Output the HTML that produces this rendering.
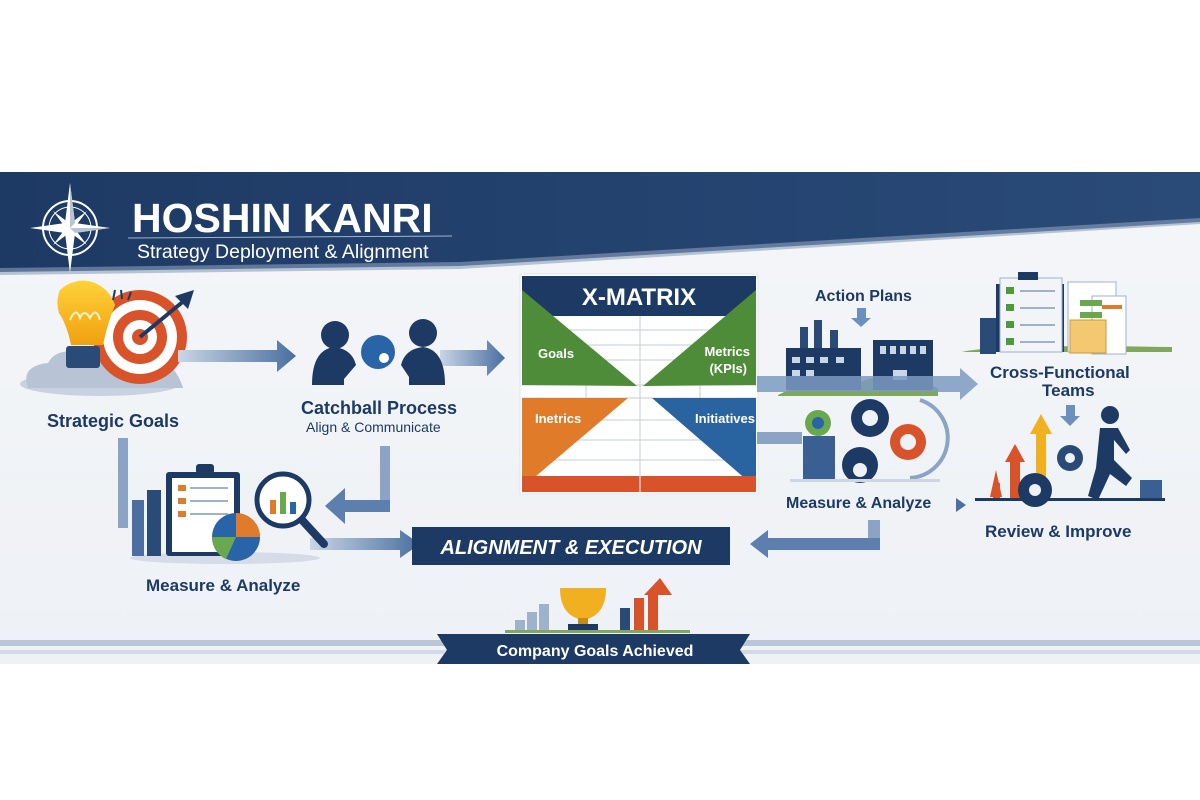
<!DOCTYPE html>
<html><head><meta charset="utf-8"><style>
html,body{margin:0;padding:0;background:#fff}
svg{display:block}
text{font-family:"Liberation Sans",sans-serif}
</style></head><body>
<svg width="1200" height="800" viewBox="0 0 1200 800" xmlns="http://www.w3.org/2000/svg">
<defs>
<linearGradient id="bg" x1="0" y1="0" x2="0" y2="1"><stop offset="0" stop-color="#f4f6f9"/><stop offset="1" stop-color="#eef1f5"/></linearGradient>
<linearGradient id="ban" x1="0" y1="0" x2="1" y2="0"><stop offset="0" stop-color="#1d3a64"/><stop offset="1" stop-color="#2a4a78"/></linearGradient>
<linearGradient id="arr" x1="0" y1="0" x2="1" y2="0"><stop offset="0" stop-color="#c9d6e6"/><stop offset="1" stop-color="#4a6fa0"/></linearGradient>
<linearGradient id="bulb" x1="0" y1="0" x2="0" y2="1"><stop offset="0" stop-color="#ffd23a"/><stop offset="1" stop-color="#f0a010"/></linearGradient>
</defs>
<rect width="1200" height="800" fill="#fff"/>
<rect y="172" width="1200" height="492" fill="url(#bg)"/>
<!-- banner -->
<polygon points="0,172 1200,172 1200,222 460,266 0,272" fill="url(#ban)"/>
<polygon points="0,268 460,262 1200,218 1200,224 460,269 0,275" fill="#8aa0bd" opacity=".6"/>
<!-- compass -->
<g transform="translate(70,228)" fill="none" stroke="#fff" stroke-width="2">
<circle r="27"/><circle r="21" stroke-width="1"/>
<polygon points="0,-45 5,-5 40,0 5,5 0,45 -5,5 -40,0 -5,-5" fill="#fff" stroke="none"/>
<polygon points="0,-24 3,-3 24,0 3,3 0,24 -3,3 -24,0 -3,-3" fill="#fff" stroke="none" transform="rotate(45)"/>
<polygon points="0,-45 5,-5 0,0" fill="#b8c4d6" stroke="none"/>
<polygon points="40,0 5,5 0,0" fill="#b8c4d6" stroke="none"/>
</g>
<text x="132" y="232" fill="#fff" font-size="41" font-weight="bold">HOSHIN KANRI</text>
<line x1="128" y1="238" x2="452" y2="236" stroke="#9fb2cc" stroke-width="1"/>
<text x="137" y="258" fill="#fff" font-size="19.5">Strategy Deployment &amp; Alignment</text>

<!-- Strategic goals icon -->
<ellipse cx="100" cy="384" rx="80" ry="12" fill="#c8d2e0"/>
<path d="M28,388 q-8,-22 20,-25 q10,-18 40,-8 q30,-15 55,5 q30,-5 40,28z" fill="#b8c4d6"/>
<circle cx="140" cy="337" r="47" fill="#d8532a"/>
<circle cx="140" cy="337" r="37" fill="#fff"/>
<circle cx="140" cy="337" r="27" fill="#d8532a"/>
<circle cx="140" cy="337" r="17" fill="#fff"/>
<circle cx="140" cy="337" r="8" fill="#d8532a"/>
<line x1="140" y1="337" x2="185" y2="300" stroke="#1d3a64" stroke-width="4"/>
<polygon points="175,296 194,290 188,309" fill="#1d3a64"/>
<path d="M60,290 a34,36 0 0 1 55,15 q-8,20 -12,40 h-32 q-4,-20 -12,-32 a34,34 0 0 1 1,-23z" fill="url(#bulb)"/>
<path d="M70,320 q6,-14 10,-2 q4,-10 10,0 q6,-12 10,2" fill="none" stroke="#fff3c0" stroke-width="2"/>
<rect x="66" y="346" width="34" height="22" rx="3" fill="#2a4a78"/>
<line x1="115" y1="290" x2="113" y2="300" stroke="#1d3a64" stroke-width="2"/><line x1="121" y1="290" x2="122" y2="299" stroke="#1d3a64" stroke-width="2"/><line x1="131" y1="292" x2="128" y2="300" stroke="#1d3a64" stroke-width="2"/>
<text x="47" y="427" fill="#1d3a64" font-size="18" font-weight="bold">Strategic Goals</text>

<!-- arrows -->
<polygon points="178,350 277,350 277,340 296,356 277,372 277,362 178,362" fill="url(#arr)"/>
<polygon points="440,350 487,350 487,340 505,358 487,376 487,366 440,366" fill="url(#arr)"/>

<!-- catchball -->
<g fill="#1d3a64">
<circle cx="335" cy="335" r="14"/><path d="M312,385 q0,-35 22,-38 q18,2 22,18 l-12,14 v6z"/>
<circle cx="423" cy="333" r="14"/><path d="M445,385 q0,-35 -22,-38 q-18,2 -22,18 l8,12 v8z"/>
</g>
<circle cx="378" cy="352" r="17" fill="#2a64a8"/><circle cx="384" cy="358" r="5" fill="#fff"/>
<text x="301" y="414" fill="#1d3a64" font-size="18" font-weight="bold">Catchball Process</text>
<text x="306" y="432" fill="#1d3a64" font-size="14">Align &amp; Communicate</text>

<!-- down connectors left -->
<rect x="118" y="438" width="10" height="90" fill="#8ba4c6"/>
<rect x="380" y="446" width="10" height="64" fill="#8ba4c6"/>
<polygon points="390,500 390,512 345,512 345,524 325,506 345,488 345,500" fill="#5d7fae"/>
<rect x="370" y="500" width="20" height="12" fill="#5d7fae"/>
<polygon points="310,538 400,538 400,530 420,544 400,558 400,550 310,550" fill="url(#arr)"/>

<!-- Measure & Analyze left icon -->
<ellipse cx="225" cy="558" rx="95" ry="6" fill="#d5dce7"/>
<rect x="132" y="500" width="12" height="56" fill="#4a6fa0"/><rect x="147" y="490" width="14" height="66" fill="#2a4a78"/>
<rect x="166" y="472" width="74" height="84" rx="3" fill="#1d3a64"/>
<rect x="172" y="478" width="62" height="74" fill="#fff"/>
<rect x="196" y="464" width="18" height="10" rx="3" fill="#1d3a64"/>
<g fill="#e07b2a"><rect x="178" y="485" width="8" height="6"/><rect x="178" y="498" width="8" height="6"/><rect x="178" y="511" width="8" height="6"/></g>
<g stroke="#9fb2cc" stroke-width="2"><line x1="190" y1="488" x2="228" y2="488"/><line x1="190" y1="501" x2="228" y2="501"/><line x1="190" y1="514" x2="228" y2="514"/></g>
<circle cx="236" cy="537" r="24" fill="#2a64a8"/><path d="M236,537 v-24 a24,24 0 0 1 24,24z" fill="#e07b2a"/><path d="M236,537 h-24 a24,24 0 0 0 14,22z" fill="#6aa84f"/>
<circle cx="283" cy="500" r="26" fill="#fff" stroke="#1d3a64" stroke-width="5"/>
<rect x="270" y="500" width="6" height="14" fill="#e07b2a"/><rect x="280" y="492" width="6" height="22" fill="#6aa84f"/><rect x="290" y="502" width="6" height="12" fill="#2a64a8"/>
<line x1="302" y1="520" x2="324" y2="544" stroke="#1d3a64" stroke-width="8" stroke-linecap="round"/>
<text x="146" y="591" fill="#1d3a64" font-size="17" font-weight="bold">Measure &amp; Analyze</text>

<!-- X-MATRIX -->
<rect x="520" y="274" width="238" height="220" fill="#fff" stroke="#dfe5ee"/>
<rect x="522" y="276" width="234" height="40" fill="#1d3a64"/>
<g stroke="#c3ccd8" stroke-width="1">
<line x1="522" y1="330" x2="756" y2="330"/><line x1="522" y1="345" x2="756" y2="345"/><line x1="522" y1="360" x2="756" y2="360"/><line x1="522" y1="385" x2="756" y2="385"/><line x1="522" y1="398" x2="756" y2="398"/><line x1="522" y1="420" x2="756" y2="420"/><line x1="522" y1="440" x2="756" y2="440"/><line x1="522" y1="460" x2="756" y2="460"/>
<line x1="640" y1="316" x2="640" y2="492"/><line x1="586" y1="385" x2="586" y2="398"/><line x1="700" y1="385" x2="700" y2="398"/>
</g>
<polygon points="522,290 637,386 522,385" fill="#4e8c3a"/>
<polygon points="756,290 643,386 756,385" fill="#4e8c3a"/>
<polygon points="522,398 628,398 522,488" fill="#e07b2a"/>
<polygon points="756,398 652,398 756,488" fill="#2a64a0"/>
<rect x="522" y="476" width="234" height="16" fill="#d8532a"/>
<line x1="640" y1="476" x2="640" y2="492" stroke="#fff"/>
<text x="639" y="305" fill="#fff" font-size="24" font-weight="bold" text-anchor="middle">X-MATRIX</text>
<text x="538" y="358" fill="#fff" font-size="13" font-weight="bold">Goals</text>
<text x="750" y="356" fill="#fff" font-size="13" font-weight="bold" text-anchor="end">Metrics</text>
<text x="747" y="373" fill="#fff" font-size="13" font-weight="bold" text-anchor="end">(KPIs)</text>
<text x="535" y="423" fill="#fff" font-size="13" font-weight="bold">Inetrics</text>
<text x="755" y="423" fill="#fff" font-size="13" font-weight="bold" text-anchor="end">Initiatives</text>

<!-- Action plans -->
<text x="815" y="301" fill="#1d3a64" font-size="16" font-weight="bold">Action Plans</text>
<polygon points="857,308 866,308 866,318 871,318 861,327 851,318 857,318" fill="#6d8fbd"/>
<path d="M778,395 q40,-20 80,-12 q30,-15 80,5 l0,8 h-160z" fill="#7fa85a"/>
<g fill="#2a4a78"><rect x="800" y="327" width="8" height="22"/><rect x="814" y="320" width="8" height="30"/><rect x="830" y="330" width="8" height="20"/></g>
<rect x="786" y="348" width="75" height="42" fill="#1d3a64"/>
<rect x="873" y="340" width="60" height="50" fill="#1d3a64"/>
<g fill="#c9d6e6"><rect x="792" y="357" width="8" height="6"/><rect x="806" y="357" width="8" height="6"/><rect x="820" y="357" width="8" height="6"/><rect x="836" y="357" width="8" height="6"/><rect x="792" y="370" width="8" height="6"/><rect x="806" y="370" width="8" height="6"/><rect x="880" y="346" width="6" height="8"/><rect x="890" y="346" width="6" height="8"/><rect x="900" y="346" width="6" height="8"/><rect x="910" y="346" width="6" height="8"/><rect x="920" y="346" width="6" height="8"/><rect x="893" y="370" width="14" height="10"/></g>
<polygon points="757,376 960,376 960,368 978,384 960,400 960,392 757,392" fill="#7d9ac2" opacity=".85"/>
<rect x="757" y="432" width="45" height="12" fill="#8ba4c6"/>
<!-- gears -->
<g fill="#1d3a64"><circle cx="870" cy="418" r="19"/><circle cx="860" cy="465" r="18"/></g>
<circle cx="870" cy="418" r="8" fill="#eef1f5"/><circle cx="860" cy="470" r="7" fill="#eef1f5"/>
<circle cx="908" cy="442" r="18" fill="#d8532a"/><circle cx="908" cy="442" r="8" fill="#eef1f5"/>
<circle cx="818" cy="423" r="13" fill="#6aa84f"/><circle cx="818" cy="423" r="6" fill="#2a64a8"/>
<rect x="803" y="436" width="32" height="44" fill="#3a5f93"/>
<path d="M920,400 a40,40 0 0 1 -10,78" fill="none" stroke="#8ba4c6" stroke-width="4"/>
<rect x="790" y="479" width="150" height="3" fill="#cdd6e2"/>
<text x="786" y="508" fill="#1d3a64" font-size="16" font-weight="bold">Measure &amp; Analyze</text>
<polygon points="956,498 966,505 956,512" fill="#4a6fa0"/>
<rect x="868" y="520" width="12" height="28" fill="#8ba4c6"/>
<polygon points="880,538 880,550 768,550 768,558 750,544 768,530 768,538" fill="#5d7fae"/>

<!-- Cross functional -->
<path d="M962,352 q30,-8 210,-5 v5 h-210z" fill="#7fa85a"/>
<rect x="980" y="318" width="16" height="36" fill="#2a4a78"/>
<rect x="996" y="284" width="68" height="68" fill="#1d3a64"/>
<rect x="1000" y="278" width="62" height="74" fill="#f2f4f8" stroke="#9fb2cc"/>
<rect x="1018" y="272" width="20" height="8" fill="#1d3a64"/>
<g fill="#4e9a3a"><rect x="1006" y="287" width="8" height="7"/><rect x="1006" y="304" width="8" height="7"/><rect x="1006" y="321" width="8" height="7"/><rect x="1006" y="338" width="8" height="7"/></g>
<g stroke="#9fb2cc" stroke-width="2"><line x1="1020" y1="291" x2="1055" y2="291"/><line x1="1020" y1="308" x2="1055" y2="308"/><line x1="1020" y1="325" x2="1055" y2="325"/><line x1="1020" y1="342" x2="1055" y2="342"/></g>
<rect x="1068" y="282" width="48" height="70" fill="#fff" stroke="#9fb2cc"/>
<rect x="1092" y="296" width="34" height="58" fill="#fff" stroke="#9fb2cc"/>
<rect x="1080" y="300" width="22" height="6" fill="#6aa84f"/><rect x="1080" y="312" width="22" height="6" fill="#6aa84f"/>
<rect x="1102" y="305" width="20" height="4" fill="#e07b2a"/>
<rect x="1070" y="320" width="36" height="33" fill="#f3c870" stroke="#c99a3a"/>
<text x="990" y="378" fill="#1d3a64" font-size="17" font-weight="bold">Cross-Functional</text>
<text x="1042" y="396" fill="#1d3a64" font-size="17" font-weight="bold">Teams</text>
<polygon points="1066,405 1075,405 1075,416 1080,416 1070,426 1060,416 1066,416" fill="#6d8fbd"/>
<!-- review icon -->
<polygon points="990,497 996,470 1002,497" fill="#d8532a"/><rect x="993" y="483" width="7" height="15" fill="#d8532a"/>
<rect x="1010" y="460" width="10" height="40" fill="#d8532a"/><polygon points="1005,462 1015,444 1025,462" fill="#d8532a"/>
<rect x="1036" y="432" width="10" height="66" fill="#f0b020"/><polygon points="1030,434 1041,414 1052,434" fill="#f0b020"/>
<circle cx="1070" cy="458" r="13" fill="#2a4a78"/><circle cx="1070" cy="458" r="5" fill="#eef1f5"/>
<circle cx="1035" cy="490" r="17" fill="#1d3a64"/><circle cx="1035" cy="490" r="6" fill="#eef1f5"/>
<circle cx="1110" cy="415" r="9" fill="#1d3a64"/>
<path d="M1100,428 l18,0 l12,22 l-4,4 l-12,-14 v20 l18,18 l-6,8 l-16,-12 l-12,26 l-10,-4 l8,-28 z" fill="#1d3a64"/>
<rect x="1140" y="480" width="22" height="20" fill="#3a5f93"/>
<rect x="975" y="498" width="190" height="3" fill="#1d3a64"/>
<text x="985" y="537" fill="#1d3a64" font-size="17" font-weight="bold">Review &amp; Improve</text>

<!-- Alignment & Execution -->
<rect x="412" y="527" width="318" height="38" fill="#1d3a64"/>
<text x="571" y="554" fill="#fff" font-size="20" font-weight="bold" font-style="italic" text-anchor="middle">ALIGNMENT &amp; EXECUTION</text>

<!-- trophy -->
<g fill="#9fb2cc"><rect x="515" y="620" width="10" height="12"/><rect x="527" y="612" width="10" height="20"/><rect x="539" y="604" width="10" height="28"/></g>
<path d="M560,588 h46 q0,28 -23,32 q-23,-4 -23,-32z" fill="#f0b020"/>
<rect x="578" y="618" width="10" height="8" fill="#c98a10"/><rect x="568" y="624" width="30" height="8" fill="#1d3a64"/>
<rect x="620" y="608" width="10" height="24" fill="#2a4a78"/><rect x="634" y="598" width="10" height="34" fill="#d8532a"/><rect x="648" y="592" width="10" height="40" fill="#d8532a"/>
<polygon points="644,595 660,578 672,595" fill="#d8532a"/>
<rect x="505" y="630" width="185" height="3" fill="#7fa85a"/>

<!-- bottom bands -->
<rect x="0" y="640" width="1200" height="6" fill="#b9c6d8"/>
<rect x="0" y="650" width="1200" height="4" fill="#d2dae6"/>
<polygon points="437,634 750,634 740,650 750,664 437,664 447,650" fill="#1d3a64"/>
<text x="595" y="656" fill="#fff" font-size="16" font-weight="bold" text-anchor="middle">Company Goals Achieved</text>
</svg>
</body></html>
